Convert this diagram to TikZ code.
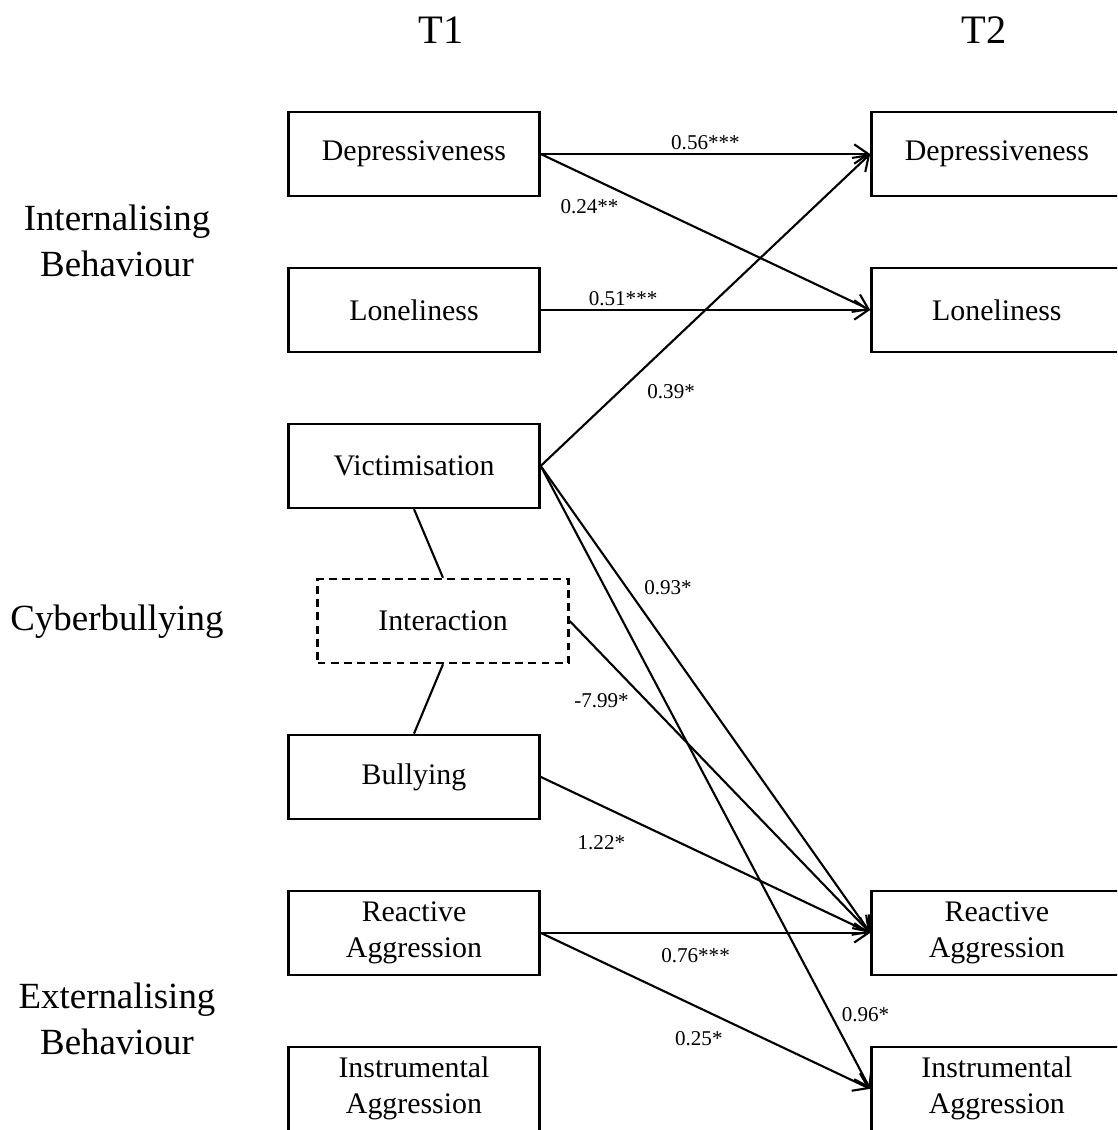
\documentclass[tikz,border=0pt]{standalone}
\usepackage{fontspec}
\setmainfont{Liberation Serif}
\usetikzlibrary{positioning,arrows.meta}

\begin{document}
\begin{tikzpicture}[x=0.02cm,y=-0.02cm,->,>={Straight Barb[length=8pt,width=11pt]},line width=1.2pt,node distance=3.12cm,
  var/.style={draw,rectangle,line width=1.4pt,minimum width=5.02cm,minimum height=1.68cm,align=center,font=\fontsize{17}{20.5}\selectfont},
  grp/.style={align=center,font=\fontsize{21}{26}\selectfont},
  wave/.style={font=\fontsize{23}{26}\selectfont},
  coef/.style={font=\fontsize{12}{14}\selectfont,inner sep=2pt}]
\useasboundingbox (0,0) rectangle (1117,1130);
\clip (0,0) rectangle (1117,1130);
% time points and groups
\node[wave] (t1) at (441,30) {T1};
\node[wave] (t2) at (984,30) {T2};
\node[grp] (intern) at (117,241) {Internalising\\Behaviour};
\node[grp] (cyber) at (117,622) {Cyberbullying};
\node[grp] (extern) at (117,1019) {Externalising\\Behaviour};
% T1 measures
\node[var] (dep1) at (414,154) {Depressiveness};
\node[var,below of=dep1] (lon1) {Loneliness};
\node[var,below of=lon1] (vic1) {Victimisation};
\node[var,below of=vic1,node distance=6.22cm] (bul1) {Bullying};
\node[var,dashed,dash pattern=on 4.5pt off 3pt] (int1) at (443,621) {Interaction};
\node[var,below of=bul1] (rea1) {Reactive\\Aggression};
\node[var,below of=rea1] (ins1) {Instrumental\\Aggression};
% T2 measures
\node[var,right of=dep1,node distance=11.66cm] (dep2) {Depressiveness};
\node[var,right of=lon1,node distance=11.66cm] (lon2) {Loneliness};
\node[var,right of=rea1,node distance=11.66cm] (rea2) {Reactive\\Aggression};
\node[var,right of=ins1,node distance=11.66cm] (ins2) {Instrumental\\Aggression};
% interaction term
\draw[-] (vic1.south) -- (int1.north);
\draw[-] (int1.south) -- (bul1.north);
% paths
\path (dep1.east) edge node[coef,above] {0.56***} (dep2.west)
(dep1.east) edge node[coef,pos=0.25,below left,yshift=-1pt] {0.24**} (lon2.west)
(lon1.east) edge node[coef,pos=0.25,above] {0.51***} (lon2.west)
(vic1.east) edge node[coef,pos=0.31,below right,yshift=-6pt] {0.39*} (dep2.west)
(vic1.east) edge node[coef,pos=0.29,above right,xshift=2pt,yshift=1pt] {0.93*} (rea2.west)
(vic1.east) edge node[coef,pos=0.9,above right] {0.96*} (ins2.west)
(int1.east) edge node[coef,pos=0.2,below left,xshift=2pt,yshift=-3pt] {-7.99*} (rea2.west)
(bul1.east) edge node[coef,pos=0.27,below left,yshift=-7pt] {1.22*} (rea2.west)
(rea1.east) edge node[coef,pos=0.47,below,yshift=-6.5pt] {0.76***} (rea2.west)
(rea1.east) edge node[coef,pos=0.48,below,yshift=-11pt] {0.25*} (ins2.west);
\end{tikzpicture}
\end{document}
